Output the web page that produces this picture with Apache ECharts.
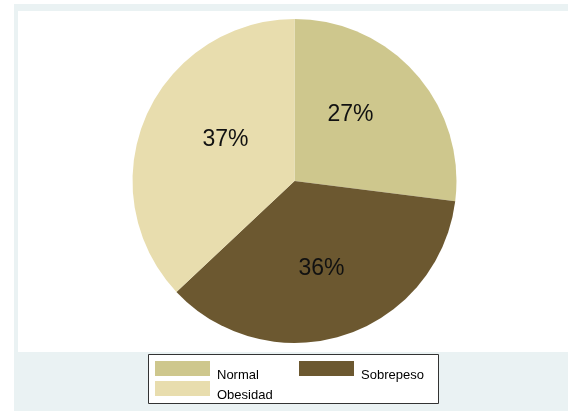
<!DOCTYPE html>
<html>
<head>
<meta charset="utf-8">
<script src="https://cdn.jsdelivr.net/npm/echarts@6/dist/echarts.min.js"></script>
<style>
html,body{margin:0;padding:0;background:#ffffff;}
#chart{width:568px;height:411px;}
</style>
</head>
<body>
<div id="chart"></div>
<script>
// Data
const categories = ['Normal', 'Sobrepeso', 'Obesidad'];
const values = [27, 36, 37];
const sliceColors = ['#CEC78D', '#6C5830', '#E8DDAE'];

// label nudges (style only)
const labelOffsets = [[-7, -11], [1, 8], [8, -8]];
// legend slot positions (style only): [left, top]
const legendSlots = [[155, 361], [299, 361], [155, 381]];

const chart = echarts.init(document.getElementById('chart'), null, {renderer: 'canvas'});

const pieData = categories.map((c, i) => ({
  name: c,
  value: values[i],
  itemStyle: {color: sliceColors[i]},
  label: {offset: labelOffsets[i]}
}));

const legendText = {
  fontFamily: "'Liberation Sans', Arial, sans-serif",
  fontSize: 13,
  color: '#000',
  rich: {
    t: {
      fontFamily: "'Liberation Sans', Arial, sans-serif",
      fontSize: 13,
      color: '#000',
      padding: [13, 0, 0, 2]
    }
  }
};
const legendFormatter = name => '{t|' + name + '}';

const legends = categories.map((c, i) => ({
  data: [c],
  orient: 'vertical',
  left: legendSlots[i][0], top: legendSlots[i][1],
  padding: 0,
  itemGap: 5,
  itemWidth: 55, itemHeight: 15,
  icon: 'rect',
  selectedMode: false,
  formatter: legendFormatter,
  textStyle: legendText
}));

chart.setOption({
  animation: false,
  backgroundColor: '#ffffff',
  graphic: [
    {type: 'rect', z: -10, shape: {x: 14, y: 4, width: 560, height: 410}, style: {fill: '#EAF2F3'}},
    {type: 'rect', z: -9, shape: {x: 18, y: 11, width: 560, height: 341}, style: {fill: '#ffffff'}},
    {type: 'rect', z: -8, shape: {x: 148.5, y: 354.5, width: 290, height: 49}, style: {fill: '#ffffff', stroke: '#333333', lineWidth: 1}}
  ],
  legend: legends,
  series: [{
    type: 'pie',
    center: [294.5, 181],
    radius: [0, 162],
    startAngle: 90,
    clockwise: true,
    avoidLabelOverlap: false,
    emphasis: {disabled: true},
    itemStyle: {borderWidth: 0},
    label: {
      show: true,
      position: 'inside',
      formatter: '{d}%',
      fontFamily: "'Liberation Sans', Arial, sans-serif",
      fontSize: 23,
      color: '#111'
    },
    labelLine: {show: false},
    data: pieData
  }]
});
</script>
</body>
</html>
